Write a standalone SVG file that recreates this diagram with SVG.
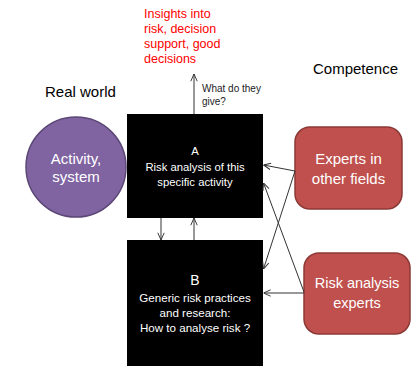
<svg xmlns="http://www.w3.org/2000/svg" width="412" height="367" viewBox="0 0 412 367">
<style>
.t{font-family:"Liberation Sans",Arial,sans-serif}
.w{fill:#fff;text-anchor:middle}
.box{fill:#000}
.red{fill:#C0504D;stroke:#8C3836;stroke-width:1.5}
.c{stroke:#333;stroke-width:1;fill:none;marker-end:url(#ah)}
</style>
<defs>
<marker id="ah" viewBox="0 0 10 10" refX="10" refY="5" markerWidth="8" markerHeight="8" markerUnits="userSpaceOnUse" orient="auto">
<path d="M1,1 L10,5 L1,9" fill="none" stroke="#333" stroke-width="1.2"/>
</marker>
</defs>
<rect width="412" height="367" fill="#fff"/>
<g id="labels" class="t">
<text x="144" y="18" font-size="12.5" fill="#FF0000"><tspan x="144">Insights into</tspan><tspan x="144" dy="15">risk, decision</tspan><tspan x="144" dy="15">support, good</tspan><tspan x="144" dy="15">decisions</tspan></text>
<text x="202" y="92" font-size="10" fill="#222"><tspan x="202">What do they</tspan><tspan x="202" dy="13">give?</tspan></text>
<text x="45" y="97" font-size="15" fill="#000">Real world</text>
<text x="313" y="74" font-size="15" fill="#000">Competence</text>
</g>
<g id="activity">
<circle cx="76" cy="167" r="50" fill="#8064A2" stroke="#5C4776" stroke-width="1.5"/>
<text class="t w" x="76" y="164" font-size="15"><tspan x="76">Activity,</tspan><tspan x="76" dy="18">system</tspan></text>
</g>
<g id="boxA">
<rect class="box" x="127" y="114" width="136" height="104"/>
<text class="t w" x="195" y="155" font-size="11.3"><tspan x="195">A</tspan><tspan x="195" dy="15.5">Risk analysis of this</tspan><tspan x="195" dy="15.5">specific activity</tspan></text>
</g>
<g id="boxB">
<rect class="box" x="127" y="240" width="136" height="126"/>
<text class="t w" x="195" y="285" font-size="14">B</text>
<text class="t w" x="195" y="302" font-size="11.6"><tspan x="195">Generic risk practices</tspan><tspan x="195" dy="15">and research:</tspan><tspan x="195" dy="15">How to analyse risk ?</tspan></text>
</g>
<g id="experts-other">
<rect class="red" x="295" y="127" width="107" height="82" rx="15"/>
<text class="t w" x="348.5" y="164" font-size="15"><tspan x="348.5">Experts in</tspan><tspan x="348.5" dy="20">other fields</tspan></text>
</g>
<g id="risk-experts">
<rect class="red" x="304" y="253" width="106" height="81" rx="15"/>
<text class="t w" x="357" y="288" font-size="14.5"><tspan x="357">Risk analysis</tspan><tspan x="357" dy="20">experts</tspan></text>
</g>
<g id="connectors">
<line class="c" x1="194" y1="114" x2="194" y2="74"/>
<line class="c" x1="161" y1="218" x2="161" y2="240"/>
<line class="c" x1="194" y1="240" x2="194" y2="218"/>
<line class="c" x1="295" y1="171" x2="263.5" y2="165"/>
<line class="c" x1="295" y1="171" x2="263.5" y2="269"/>
<line class="c" x1="304" y1="292" x2="263.5" y2="183"/>
<line class="c" x1="304" y1="293" x2="263.5" y2="293"/>
</g>
</svg>
